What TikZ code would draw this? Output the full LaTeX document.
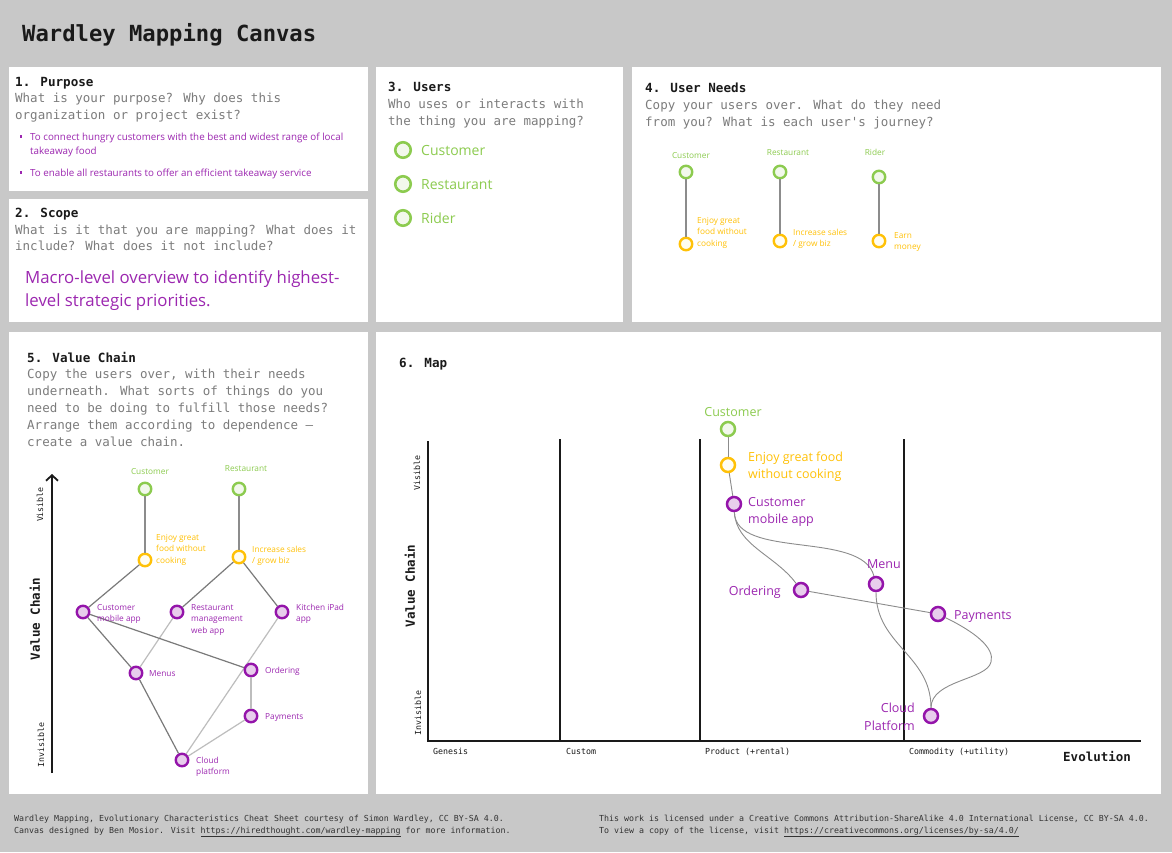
\documentclass[tikz,border=0pt]{standalone}
\usepackage{fontspec}
\usetikzlibrary{arrows.meta}
\newfontfamily\monof{DejaVu Sans Mono}
\newfontfamily\sansf{Open Sans}
\definecolor{bggray}{HTML}{C8C8C8}
\definecolor{headc}{HTML}{1A1A1A}
\definecolor{descc}{HTML}{7C7C7C}
\definecolor{purp}{HTML}{9C27B0}
\definecolor{purpline}{HTML}{9414AA}
\definecolor{purpfill}{HTML}{E8CDEC}
\definecolor{grn}{HTML}{8CCB4F}
\definecolor{grnfill}{HTML}{F2F8EC}
\definecolor{yel}{HTML}{FFC107}
\definecolor{yelfill}{HTML}{FFFDF2}
\definecolor{footc}{HTML}{333333}
\definecolor{edgedark}{HTML}{7A7A7A}
\definecolor{edgelight}{HTML}{BDBDBD}
\definecolor{edgemap}{HTML}{8C8C8C}
\begin{document}
\begin{tikzpicture}[x=1pt,y=-1pt,
  panel/.style={fill=white,draw=none},
  head/.style={anchor=base west,inner sep=0,text=headc,font=\monof\bfseries\fontsize{12.6}{15}\selectfont},
  desc/.style={anchor=base west,inner sep=0,text=descc,font=\monof\fontsize{12.5}{17}\selectfont},
  foot/.style={anchor=base west,inner sep=0,text=footc,font=\monof\fontsize{8.3}{12}\selectfont},
  axlab/.style={anchor=base west,inner sep=0,text=headc,font=\monof\fontsize{8.3}{10}\selectfont},
  vislab/.style={inner sep=0,text=headc,rotate=90,font=\monof\fontsize{8.3}{10}\selectfont},
  vclab/.style={inner sep=0,text=headc,rotate=90,font=\monof\bfseries\fontsize{12.5}{15}\selectfont},
  bul/.style={anchor=base west,inner sep=0,text=purp,align=left,font=\sansf\fontsize{9.8}{14}\selectfont},
  bulsq/.style={rectangle,fill=purp,inner sep=0,minimum size=2.8pt},
  ulab/.style={anchor=base west,inner sep=0,text=grn,font=\sansf\fontsize{14}{17}\selectfont},
  ucirc/.style={circle,inner sep=0,minimum size=15.5pt,line width=2.6pt,draw=grn,fill=grnfill},
  sgl/.style={inner sep=0,text=grn,font=\sansf\fontsize{8.3}{11.7}\selectfont},
  syl/.style={anchor=base west,inner sep=0,text=yel,align=left,font=\sansf\fontsize{8.3}{11.7}\selectfont},
  spl/.style={anchor=base west,inner sep=0,text=purp,align=left,font=\sansf\fontsize{8.3}{11.7}\selectfont},
  gcirc/.style={circle,inner sep=0,minimum size=12.5pt,line width=2.4pt,draw=grn,fill=grnfill},
  ycirc/.style={circle,inner sep=0,minimum size=12.5pt,line width=2.4pt,draw=yel,fill=yelfill},
  pcirc/.style={circle,inner sep=0,minimum size=12.5pt,line width=2.4pt,draw=purpline,fill=purpfill},
  mgcirc/.style={circle,inner sep=0,minimum size=14pt,line width=2.5pt,draw=grn,fill=grnfill},
  mycirc/.style={circle,inner sep=0,minimum size=14pt,line width=2.5pt,draw=yel,fill=yelfill},
  mpcirc/.style={circle,inner sep=0,minimum size=14pt,line width=2.5pt,draw=purpline,fill=purpfill},
  mlab/.style={inner sep=0,align=left,font=\sansf\fontsize{12.5}{17.6}\selectfont},
  needline/.style={draw=edgemap,line width=1.3pt},
  vdark/.style={draw=edgedark,line width=1.2pt},
  vlight/.style={draw=edgelight,line width=1.2pt},
  mapedge/.style={draw=edgemap,line width=0.9pt},
  axis/.style={draw=headc,line width=2.5pt}
]
\useasboundingbox (0,0) rectangle (1172,852);
\fill[bggray] (0,0) rectangle (1172,852);

% title
\node[anchor=base west,inner sep=0,text=headc,font=\monof\bfseries\fontsize{22.2}{26}\selectfont] (title) at (22,41) {Wardley Mapping Canvas};

% panels
\fill[panel] (9,67) rectangle (368,191);
\fill[panel] (9,199) rectangle (368,322);
\fill[panel] (376,67) rectangle (623,322);
\fill[panel] (632,67) rectangle (1161,322);
\fill[panel] (9,332) rectangle (368,794);
\fill[panel] (376,332) rectangle (1161,794);

% 1. Purpose
\node[head] (h1) at (15,86) {1. Purpose};
\node[desc] (d1a) at (15,102.7) {What is your purpose? Why does this};
\node[desc] (d1b) at (15,119.3) {organization or project exist?};
\node[bulsq] (b1) at (21,136.8) {};
\node[bul] (t1a) at (30,140) {To connect hungry customers with the best and widest range of local};
\node[bul] (t1b) at (30,154) {takeaway food};
\node[bulsq] (b2) at (21,172.8) {};
\node[bul] (t1c) at (30,176) {To enable all restaurants to offer an efficient takeaway service};

% 2. Scope
\node[head] (h2) at (15,217.7) {2. Scope};
\node[desc] (d2a) at (15,234.3) {What is it that you are mapping? What does it};
\node[desc] (d2b) at (15,250.5) {include? What does it not include?};
\node[anchor=base west,inner sep=0,text=purp,font=\sansf\fontsize{16.8}{23}\selectfont] (s2a) at (25,283) {Macro-level overview to identify highest-};
\node[anchor=base west,inner sep=0,text=purp,font=\sansf\fontsize{16.8}{23}\selectfont] (s2b) at (25,306) {level strategic priorities.};

% 3. Users
\node[head] (h3) at (388,91.7) {3. Users};
\node[desc] (d3a) at (388,108.3) {Who uses or interacts with};
\node[desc] (d3b) at (388,125) {the thing you are mapping?};
\node[ucirc] (u1) at (403,150) {};
\node[ulab] (u1l) at (421,155) {Customer};
\node[ucirc] (u2) at (403,184) {};
\node[ulab] (u2l) at (421,189) {Restaurant};
\node[ucirc] (u3) at (403,218) {};
\node[ulab] (u3l) at (421,223) {Rider};

% 4. User Needs
\node[head] (h4) at (645,92.7) {4. User Needs};
\node[desc] (d4a) at (645,109.3) {Copy your users over. What do they need};
\node[desc] (d4b) at (645,126) {from you? What is each user's journey?};
\node[sgl,anchor=base] (n1l) at (691,158) {Customer};
\node[sgl,anchor=base] (n2l) at (788,155) {Restaurant};
\node[sgl,anchor=base] (n3l) at (875,155) {Rider};
\node[gcirc] (n1) at (686,172) {};
\node[gcirc] (n2) at (780,172) {};
\node[gcirc] (n3) at (879,177) {};
\node[ycirc] (m1) at (686,244) {};
\node[ycirc] (m2) at (780,241) {};
\node[ycirc] (m3) at (879,241) {};
\draw[needline] (n1) -- (m1);
\draw[needline] (n2) -- (m2);
\draw[needline] (n3) -- (m3);
\node[syl] (m1l) at (697,246.4) {Enjoy great\\food without\\cooking};
\node[syl] (m2l) at (793,246.7) {Increase sales\\/ grow biz};
\node[syl] (m3l) at (894,249.7) {Earn\\money};

% 5. Value Chain
\node[head] (h5) at (27,362.7) {5. Value Chain};
\node[desc] (d5a) at (27,378.5) {Copy the users over, with their needs};
\node[desc] (d5b) at (27,395.5) {underneath. What sorts of things do you};
\node[desc] (d5c) at (27,412.5) {need to be doing to fulfill those needs?};
\node[desc] (d5d) at (27,429.5) {Arrange them according to dependence —};
\node[desc] (d5e) at (27,446.5) {create a value chain.};
\coordinate (vbot) at (52,773);
\coordinate (vtop) at (52,474);
\draw[line width=2.4pt,draw=headc,-{Straight Barb[length=5.5pt,width=12pt,line width=1.8pt]}] (vbot) -- (vtop);
\node[vislab] (v5vis) at (40,504.5) {Visible};
\node[vislab] (v5inv) at (41,744.7) {Invisible};
\node[vclab] (v5vc) at (35,619) {Value Chain};

\node[sgl,anchor=base] (vcul) at (150,474) {Customer};
\node[sgl,anchor=base] (vrul) at (246,471) {Restaurant};
\node[gcirc] (vcu) at (145,489) {};
\node[gcirc] (vru) at (239,489) {};
\node[ycirc] (ven) at (145,560) {};
\node[ycirc] (vin) at (239,557) {};
\node[pcirc] (vcma) at (83,612) {};
\node[pcirc] (vrmw) at (177,612) {};
\node[pcirc] (vkip) at (282,612) {};
\node[pcirc] (vmen) at (136,673) {};
\node[pcirc] (vpay) at (251,716) {};
\node[pcirc] (vcld) at (182,760) {};
\draw[needline] (vcu) -- (ven);
\draw[needline] (vru) -- (vin);
\draw[vdark] (ven) -- (vcma);
\draw[vdark] (vin) -- (vrmw);
\draw[vdark] (vin) -- (vkip);
\draw[vdark] (vcma) -- (vmen);
\draw[vlight] (vrmw) -- (vmen);
\draw[vlight] (vkip) -- (vcld);
\draw[vlight] (vpay) -- (vcld);
\draw[vdark] (vmen) -- (vcld);
\node[pcirc] (vord) at (251,670) {};
\draw[vdark] (vcma) -- (vord);
\draw[vlight,line width=2.4pt] (vord) -- (vpay);
\node[syl] (venl) at (156,563.4) {Enjoy great\\food without\\cooking};
\node[syl] (vinl) at (252,563.7) {Increase sales\\/ grow biz};
\node[spl] (vcmal) at (97,621.7) {Customer\\mobile app};
\node[spl] (vrmwl) at (191,633.4) {Restaurant\\management\\web app};
\node[spl] (vkipl) at (296,621.7) {Kitchen iPad\\app};
\node[spl] (vmenl) at (149,676) {Menus};
\node[spl] (vordl) at (265,673) {Ordering};
\node[spl] (vpayl) at (265,719) {Payments};
\node[spl] (vcldl) at (196,774.7) {Cloud\\platform};

% 6. Map
\node[head] (h6) at (399,367.7) {6. Map};
\coordinate (g0t) at (428,441);
\coordinate (g0b) at (428,741);
\coordinate (g1t) at (560,439);
\coordinate (g1b) at (560,741);
\coordinate (g2t) at (700,439);
\coordinate (g2b) at (700,741);
\coordinate (g3t) at (904,439);
\coordinate (g3b) at (904,741);
\coordinate (axr) at (1141,741);
\draw[axis] (g0t) -- (g0b) -- (axr);
\draw[axis] (g1t) -- (g1b);
\draw[axis] (g2t) -- (g2b);
\draw[axis] (g3t) -- (g3b);
\node[axlab] (ax1) at (433,754) {Genesis};
\node[axlab] (ax2) at (566,754) {Custom};
\node[axlab] (ax3) at (705,754) {Product (+rental)};
\node[axlab] (ax4) at (909,754) {Commodity (+utility)};
\node[anchor=base west,inner sep=0,text=headc,font=\monof\bfseries\fontsize{12.5}{15}\selectfont] (evo) at (1063,761) {Evolution};
\node[vislab] (v6vis) at (417,473) {Visible};
\node[vislab] (v6inv) at (418,713) {Invisible};
\node[vclab] (v6vc) at (410,586) {Value Chain};

\node[mgcirc] (mcu) at (728,429) {};
\node[mycirc] (men) at (728,465) {};
\node[mpcirc] (mcma) at (734,504) {};
\node[mpcirc] (mmenu) at (876,584) {};
\node[mpcirc] (mord) at (801,590) {};
\node[mpcirc] (mpay) at (938,614) {};
\node[mpcirc] (mcld) at (931,716) {};
\coordinate (mturn) at (991,662);
\draw[mapedge] (mcu) -- (men);
\draw[mapedge] (men) -- (mcma);
\draw[mapedge] (mcma) .. controls (736,545) and (775,555) .. (mord);
\draw[mapedge] (mcma) .. controls (736,560) and (862,530) .. (mmenu);
\draw[mapedge] (mord) -- (mpay);
\draw[mapedge] (mmenu) .. controls (876,645) and (931,655) .. (mcld);
\draw[mapedge] (mpay) .. controls (975,632) and (995,648) .. (mturn) .. controls (987,680) and (931,680) .. (mcld);
\node[mlab,text=grn,anchor=base] (mcul) at (733,416) {Customer};
\node[mlab,text=yel,anchor=base west] (menl) at (748,478.6) {Enjoy great food\\without cooking};
\node[mlab,text=purp,anchor=base west] (mcmal) at (748,523.6) {Customer\\mobile app};
\node[mlab,text=purp,anchor=base] (mmenul) at (884,568) {Menu};
\node[mlab,text=purp,anchor=base east] (mordl) at (781,595) {Ordering};
\node[mlab,text=purp,anchor=base west] (mpayl) at (954,619) {Payments};
\node[mlab,text=purp,anchor=base east,align=right] (mcldl) at (915,730) {Cloud\\Platform};

% footer
\node[foot] (f1) at (14,821) {Wardley Mapping, Evolutionary Characteristics Cheat Sheet courtesy of Simon Wardley, CC BY-SA 4.0.};
\node[foot] (f2) at (14,833) {Canvas designed by Ben Mosior. Visit \underline{https://hiredthought.com/wardley-mapping} for more information.};
\node[foot] (f3) at (599,821) {This work is licensed under a Creative Commons Attribution-ShareAlike 4.0 International License, CC BY-SA 4.0.};
\node[foot] (f4) at (599,833) {To view a copy of the license, visit \underline{https://creativecommons.org/licenses/by-sa/4.0/}};
\end{tikzpicture}
\end{document}
